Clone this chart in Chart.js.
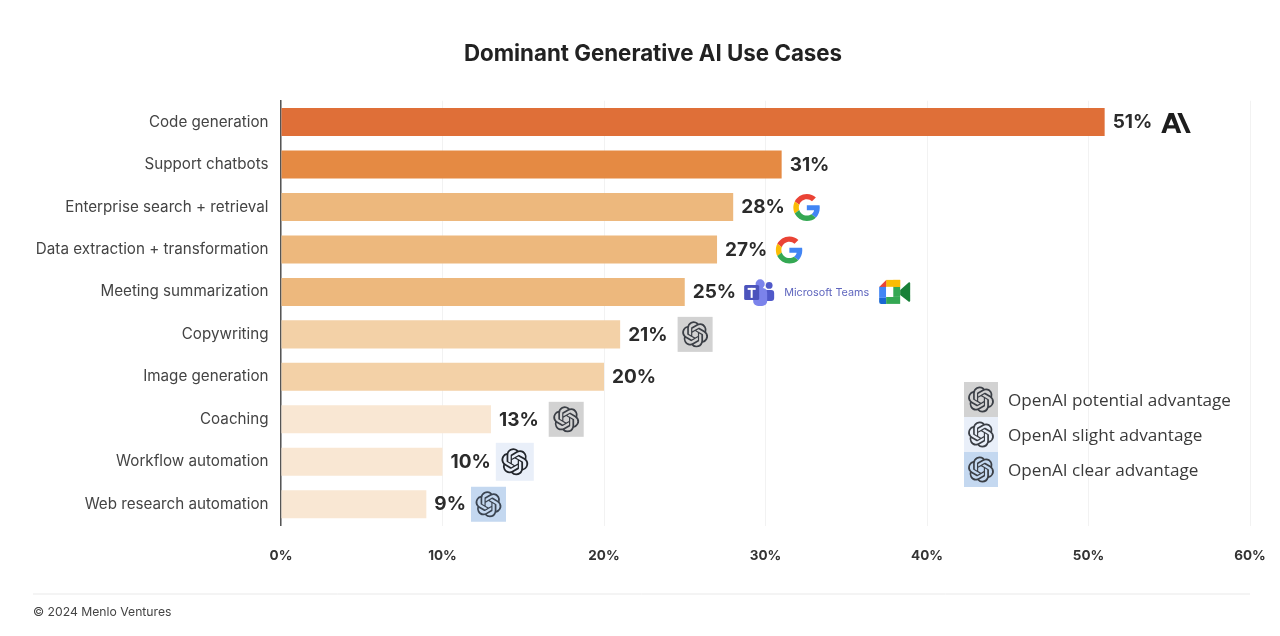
<!DOCTYPE html>
<html><head><meta charset="utf-8">
<script src="https://cdn.jsdelivr.net/npm/chart.js@4/dist/chart.umd.min.js"></script>
<style>html,body{margin:0;padding:0;background:#fff}canvas{display:block}</style>
</head><body><canvas id="c" width="1280" height="636"></canvas>
<script>
const categories=["Code generation","Support chatbots","Enterprise search + retrieval","Data extraction + transformation","Meeting summarization","Copywriting","Image generation","Coaching","Workflow automation","Web research automation"];
const shares=[51,31,28,27,25,21,20,13,10,9];
const barColors=["#DF6F38","#E58A43","#EDB87D","#EDB87D","#EDB87D","#F3D1A7","#F3D1A7","#F9E7D3","#F9E7D3","#F9E7D3"];
const vendors=["anthropic",null,"google","google","meeting","potential",null,"potential","slight","clear"];
const xTicks=[0,10,20,30,40,50,60];
const legendItems=["OpenAI potential advantage","OpenAI slight advantage","OpenAI clear advantage"];
const legendKinds=["potential","slight","clear"];
const titleText="Dominant Generative AI Use Cases";
const footerText="© 2024 Menlo Ventures";

const OPENAI=new Path2D("M22.2819 9.8211a5.9847 5.9847 0 0 0-.5157-4.9108 6.0462 6.0462 0 0 0-6.5098-2.9A6.0651 6.0651 0 0 0 4.9807 4.1818a5.9847 5.9847 0 0 0-3.9977 2.9 6.0462 6.0462 0 0 0 .7427 7.0966 5.98 5.98 0 0 0 .511 4.9107 6.051 6.051 0 0 0 6.5146 2.9001A5.9847 5.9847 0 0 0 13.2599 24a6.0557 6.0557 0 0 0 5.7718-4.2058 5.9894 5.9894 0 0 0 3.9977-2.9001 6.0557 6.0557 0 0 0-.7475-7.0729zm-9.022 12.6081a4.4755 4.4755 0 0 1-2.8764-1.0408l.1419-.0804 4.7783-2.7582a.7948.7948 0 0 0 .3927-.6813v-6.7369l2.02 1.1686a.071.071 0 0 1 .038.052v5.5826a4.504 4.504 0 0 1-4.4945 4.4944zm-9.6607-4.1254a4.4708 4.4708 0 0 1-.5346-3.0137l.142.0852 4.783 2.7582a.7712.7712 0 0 0 .7806 0l5.8428-3.3685v2.3324a.0804.0804 0 0 1-.0332.0615L9.74 19.9502a4.4992 4.4992 0 0 1-6.1408-1.6464zM2.3408 7.8956a4.485 4.485 0 0 1 2.3655-1.9728V11.6a.7664.7664 0 0 0 .3879.6765l5.8144 3.3543-2.0201 1.1685a.0757.0757 0 0 1-.071 0l-4.8303-2.7865A4.504 4.504 0 0 1 2.3408 7.872zm16.5963 3.8558L13.1038 8.364 15.1192 7.2a.0757.0757 0 0 1 .071 0l4.8303 2.7913a4.4944 4.4944 0 0 1-.6765 8.1042v-5.6772a.79.79 0 0 0-.407-.667zm2.0107-3.0231l-.142-.0852-4.7735-2.7818a.7759.7759 0 0 0-.7854 0L9.409 9.2297V6.8974a.0662.0662 0 0 1 .0284-.0615l4.8303-2.7866a4.4992 4.4992 0 0 1 6.6802 4.66zM8.3065 12.863l-2.02-1.1638a.0804.0804 0 0 1-.038-.0567V6.0742a4.4992 4.4992 0 0 1 7.3757-3.4537l-.142.0805L8.704 5.459a.7948.7948 0 0 0-.3927.6813zm1.0976-2.3654l2.602-1.4998 2.6069 1.4998v2.9994l-2.5974 1.4997-2.6067-1.4997Z");
const G_PARTS=[["#EA4335","M24 9.5c3.54 0 6.71 1.22 9.21 3.6l6.85-6.85C35.9 2.38 30.47 0 24 0 14.62 0 6.51 5.38 2.56 13.22l7.98 6.19C12.43 13.72 17.74 9.5 24 9.5z"],["#4285F4","M46.98 24.55c0-1.57-.15-3.09-.38-4.55H24v9.02h12.94c-.58 2.96-2.26 5.48-4.78 7.18l7.73 6c4.51-4.18 7.09-10.36 7.09-17.65z"],["#FBBC05","M10.53 28.59c-.48-1.45-.76-2.99-.76-4.59s.27-3.14.76-4.59l-7.98-6.19C.92 16.46 0 20.12 0 24c0 3.88.92 7.54 2.56 10.78l7.97-6.19z"],["#34A853","M24 48c6.48 0 11.93-2.13 15.89-5.81l-7.73-6c-2.15 1.45-4.92 2.3-8.16 2.3-6.26 0-11.57-4.22-13.47-9.91l-7.98 6.19C6.51 42.62 14.62 48 24 48z"]].map(p=>[p[0],new Path2D(p[1])]);
const TILE={potential:{bg:"#D2D2D2",size:35,knot:26,ink:"#3B3F46",gap:10},slight:{bg:"#E9EFF9",size:38,knot:27,ink:"#22262C",gap:5},clear:{bg:"#C4D8F0",size:35,knot:26,ink:"#3B4552",gap:5}};

function knot(ctx,cx,cy,size,ink){ctx.save();ctx.translate(cx-size/2,cy-size/2);ctx.scale(size/24,size/24);ctx.fillStyle=ink;ctx.fill(OPENAI);ctx.restore();}
function tile(ctx,kind,x,cy){const t=TILE[kind];ctx.fillStyle=t.bg;ctx.fillRect(x,cy-t.size/2,t.size,t.size);knot(ctx,x+t.size/2,cy,t.knot,t.ink);}
function google(ctx,cx,cy,s){ctx.save();ctx.translate(cx-s/2,cy-s/2);ctx.scale(s/48,s/48);G_PARTS.forEach(p=>{ctx.fillStyle=p[0];ctx.fill(p[1]);});ctx.restore();}
function anthropic(ctx,x,cy){ctx.save();ctx.translate(x,cy);ctx.fillStyle="#1d1d1d";
 ctx.beginPath();ctx.moveTo(0,10);ctx.lineTo(7.5,-10);ctx.lineTo(12.5,-10);ctx.lineTo(20,10);ctx.lineTo(15.5,10);ctx.lineTo(14,5.5);ctx.lineTo(6,5.5);ctx.lineTo(4.5,10);ctx.closePath();
 ctx.moveTo(10,-4.5);ctx.lineTo(7.2,2.2);ctx.lineTo(12.8,2.2);ctx.closePath();ctx.fill("evenodd");
 ctx.beginPath();ctx.moveTo(16,-10);ctx.lineTo(20.5,-10);ctx.lineTo(29.5,10);ctx.lineTo(25,10);ctx.closePath();ctx.fill();ctx.restore();}
function teams(ctx,x,cy){ctx.save();ctx.translate(x,cy);
 ctx.fillStyle="#5059C9";ctx.beginPath();ctx.arc(25,-7.5,3.4,0,7);ctx.fill();
 ctx.beginPath();ctx.roundRect(20,-3,10,11,3);ctx.fill();
 ctx.fillStyle="#7B83EB";ctx.beginPath();ctx.arc(16,-9,4.6,0,7);ctx.fill();
 ctx.beginPath();ctx.roundRect(9,-5,14,18,5);ctx.fill();
 ctx.fillStyle="#4B53BC";ctx.beginPath();ctx.roundRect(0,-8,15,15,1.5);ctx.fill();
 ctx.fillStyle="#fff";ctx.fillRect(3.5,-5,8,2);ctx.fillRect(6.5,-5,2,10);ctx.restore();}
function meet(ctx,x,cy){ctx.save();ctx.translate(x,cy);
 const Y="#FBBC05",G="#34A853",B="#4285F4",R="#EA4335",DG="#188038";
 ctx.fillStyle=Y;ctx.fillRect(7,-12,14,7);
 ctx.fillStyle=R;ctx.beginPath();ctx.moveTo(7,-12);ctx.lineTo(7,-5);ctx.lineTo(0,-5);ctx.closePath();ctx.fill();
 ctx.fillStyle=B;ctx.fillRect(0,-5,7,11);
 ctx.fillStyle="#1967D2";ctx.beginPath();ctx.roundRect(0,6,7,6,[0,0,0,2]);ctx.fill();
 ctx.fillStyle=G;ctx.fillRect(7,5,14,7);ctx.fillRect(14,-5,7,10);
 ctx.fillStyle=Y;ctx.fillRect(14,-12,7,7);
 ctx.fillStyle=DG;ctx.beginPath();ctx.moveTo(21,-2);ctx.lineTo(30,-10);ctx.lineTo(31,-9);ctx.lineTo(31,9);ctx.lineTo(30,10);ctx.lineTo(21,3);ctx.closePath();ctx.fill();
 ctx.fillStyle="#fff";ctx.fillRect(7,-5,7,10);ctx.restore();}

const overlay={id:"overlay",
 beforeDraw(chart){chart.titleBlock.left=56;},
 afterDatasetsDraw(chart){
 const ctx=chart.ctx,meta=chart.getDatasetMeta(0);
 ctx.save();ctx.textBaseline="middle";
 meta.data.forEach((bar,i)=>{
  const x=bar.x,y=bar.y,label=shares[i]+"%";
  ctx.font="700 19px Inter, sans-serif";ctx.fillStyle="#2b2b2b";ctx.textAlign="left";
  ctx.fillText(label,x+8,y+0.5);
  const end=x+8+ctx.measureText(label).width,v=vendors[i];
  if(v==="anthropic")anthropic(ctx,end+9,y+1);
  else if(v==="google")google(ctx,end+22,y+0.5,27);
  else if(v==="meeting"){teams(ctx,end+8,y+1);ctx.font="400 10.8px Inter, sans-serif";ctx.fillStyle="#5F66BE";ctx.fillText("Microsoft Teams",end+48,y+1);meet(ctx,end+143,y);}
  else if(v)tile(ctx,v,end+TILE[v].gap,y);
 });
 legendItems.forEach((t,i)=>{const cy=399.5+i*35,k=legendKinds[i];
  ctx.fillStyle=TILE[k].bg;ctx.fillRect(964,cy-17.5,34,35);knot(ctx,981,cy,26,TILE.potential.ink);
  ctx.font="400 17.15px 'Open Sans', sans-serif";ctx.fillStyle="#3a3a3a";ctx.textAlign="left";ctx.fillText(t,1008,cy+1.5);});
 ctx.strokeStyle="#E9E9E9";ctx.lineWidth=1;ctx.beginPath();ctx.moveTo(33,594);ctx.lineTo(1250,594);ctx.stroke();
 ctx.font="400 12.2px Inter, sans-serif";ctx.fillStyle="#444";ctx.fillText(footerText,33,612.5);
 ctx.restore();}};

new Chart(document.getElementById("c"),{type:"bar",
 data:{labels:categories,datasets:[{data:shares,backgroundColor:barColors,borderWidth:0,categoryPercentage:1,barPercentage:0.66}]},
 plugins:[overlay],
 options:{indexAxis:"y",responsive:false,animation:false,devicePixelRatio:1,
  layout:{padding:{left:0,right:30,top:0,bottom:0}},
  plugins:{legend:{display:false},tooltip:{enabled:false},
   title:{display:true,text:titleText,color:"#222",font:{family:"Inter, sans-serif",size:22.3,weight:"700"},padding:{top:41,bottom:33}}},
  scales:{
   x:{min:0,max:60,afterBuildTicks(a){a.ticks=xTicks.map(v=>({value:v}));},
     grid:{color:"#F2F2F2",drawTicks:false,lineWidth:1},border:{display:false},
     ticks:{padding:22,maxRotation:0,color:"#333",font:{family:"Inter, sans-serif",size:13.5,weight:"700"},callback:v=>v+"%"},
     afterFit(a){a.height=110.5;a.paddingLeft=0;a.paddingRight=0;}},
   y:{grid:{display:false,drawTicks:false},border:{display:true,color:"#555",width:1.5},
     ticks:{padding:12.5,color:"#444",font:{family:"Inter, sans-serif",size:15.2,weight:"400"}},
     afterFit(a){a.width=281;a.paddingTop=0;a.paddingBottom=0;}}
  }}});
</script></body></html>
